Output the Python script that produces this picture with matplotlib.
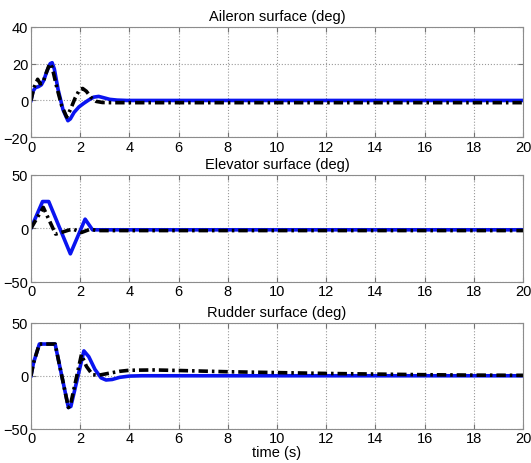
"""Control surface deflections: aileron, elevator, rudder vs time."""
import matplotlib
matplotlib.use("Agg")
import matplotlib.pyplot as plt

plt.rcParams["font.family"] = ["Liberation Sans", "DejaVu Sans"]
plt.rcParams["font.size"] = 10.5

# aileron (deg)
ail_t_blue = [0, 0.08, 0.18, 0.3, 0.42, 0.52, 0.65, 0.78, 0.86, 0.95, 1.1, 1.3, 1.5,
              1.6, 1.75, 1.95, 2.15, 2.35, 2.55, 2.75, 2.95, 3.2, 3.5, 3.9, 20]
ail_v_blue = [0, 5, 7, 7.5, 8.5, 11, 16, 20, 20.5, 17, 6, -5, -11,
              -10, -6.5, -3.5, -1.5, 0.3, 1.8, 2.2, 1.5, 0.6, 0.2, 0, 0]
ail_t_black = [0, 0.12, 0.27, 0.38, 0.48, 0.62, 0.76, 0.86, 1.05, 1.25, 1.45,
               1.6, 1.8, 1.98, 2.1, 2.25, 2.45, 2.65, 2.9, 3.3, 20]
ail_v_black = [0, 7, 11.5, 9, 9.5, 15, 20, 18, 7, -3, -9,
               -5, 1.5, 6, 6.5, 5, 1.5, -0.5, -1.1, -1.2, -1.2]

# elevator (deg)
elv_t_blue = [0, 0.47, 0.72, 1.6, 2.2, 2.5, 3.2, 3.4, 20]
elv_v_blue = [0, 25, 25, -24, 8.5, -1.5, -1.5, -1.5, -1.5]
elv_t_black = [0, 0.5, 1.0, 1.3, 1.5, 1.7, 1.9, 2.05, 2.4, 2.7, 20]
elv_v_black = [0, 19.5, -5.5, -3.5, -2, -0.8, -2.5, -4, -1, -2.2, -2.2]

# rudder (deg)
rud_t_blue = [0, 0.1, 0.34, 0.98, 1.52, 1.62, 2.15, 2.35, 2.6, 2.85, 3.05, 3.3,
              3.6, 4.0, 4.5, 20]
rud_v_blue = [0, 12, 30, 30, -30, -29, 23.5, 18, 6, -2, -4, -3.5,
              -1.5, -0.3, 0, 0]
rud_t_black = [0, 0.1, 0.34, 0.98, 1.52, 1.6, 2.05, 2.25, 2.5, 2.75, 3.2, 3.6,
               4.0, 5.0, 6.0, 8.0, 10.0, 12.0, 14.0, 16.0, 18.0, 20.0]
rud_v_black = [0, 12, 30, 30, -30, -28, 20, 9, 1, 0.5, 2.5, 4.2,
               5.2, 5.5, 5, 3.8, 3, 2.2, 1.6, 1, 0.6, 0.4]

titles = ["Aileron surface (deg)", "Elevator surface (deg)", "Rudder surface (deg)"]
ylims = [(-20, 40), (-50, 50), (-50, 50)]
yticks = [[-20, 0, 20, 40], [-50, 0, 50], [-50, 0, 50]]
xticks = list(range(0, 21, 2))

series = [
    (ail_t_blue, ail_v_blue, ail_t_black, ail_v_black),
    (elv_t_blue, elv_v_blue, elv_t_black, elv_v_black),
    (rud_t_blue, rud_v_blue, rud_t_black, rud_v_black),
]

fig = plt.figure(figsize=(5.31, 4.64), dpi=100)
boxes = [(0.940, 0.702), (0.621, 0.391), (0.302, 0.074)]
left, right = 31 / 531, 523 / 531

for (top, bot), (tb, vb, tk, vk), title, yl, yt in zip(boxes, series, titles, ylims, yticks):
    ax = fig.add_axes([left, bot, right - left, top - bot])
    ax.plot(tb, vb, color="#0a14f0", lw=2.6, solid_joinstyle="round")
    ax.plot(tk, vk, color="black", lw=2.6, dashes=(2.6, 1.1, 0.7, 1.1))
    ax.set_xlim(0, 20)
    ax.set_ylim(*yl)
    ax.set_xticks(xticks)
    ax.set_yticks(yt)
    ax.grid(True, linestyle=":", color="0.6", lw=0.8)
    ax.tick_params(direction="in", top=True, right=True, length=3.5,
                   color="0.45", pad=2, labelsize=10.5)
    for sp in ax.spines.values():
        sp.set_color("0.55")
        sp.set_linewidth(0.8)
    ax.set_title(title, fontsize=10.5, pad=5)

ax.set_xlabel("time (s)", labelpad=0)

fig.savefig("out.png", dpi=100)
